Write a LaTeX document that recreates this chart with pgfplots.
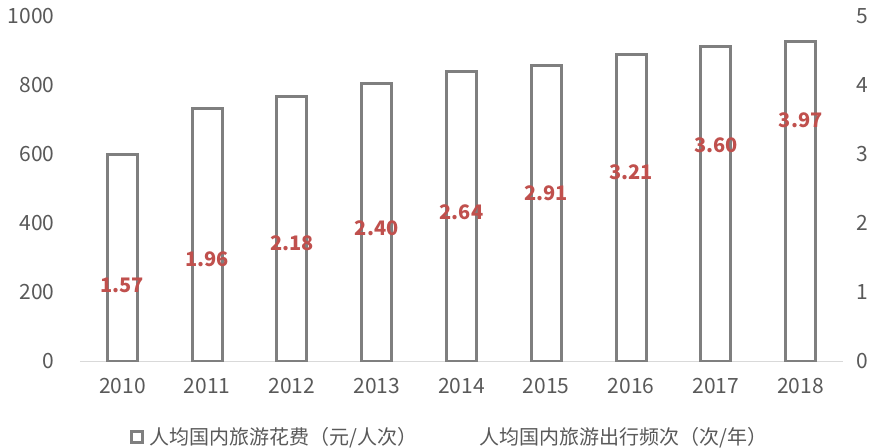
\documentclass[border=0pt]{standalone}
\usepackage{pgfplots}
\pgfplotsset{compat=1.18}
\usepackage{fontspec}
\setmainfont{Noto Sans CJK SC}
\definecolor{bargray}{HTML}{7F7F7F}
\definecolor{txtgray}{HTML}{595959}
\definecolor{lblred}{HTML}{C0504D}
\definecolor{axgray}{HTML}{D9D9D9}
\newcommand{\f}{\fontsize{20bp}{22bp}\selectfont}
\newcommand{\ft}{\fontsize{21bp}{23bp}\selectfont}
\begin{document}
\begin{tikzpicture}
\useasboundingbox (-80bp,-87bp) rectangle (799bp,361bp);
\begin{axis}[
  at={(0,0)}, anchor=south west,
  scale only axis, width=763bp, height=345bp,
  xmin=-0.5, xmax=8.5, ymin=0, ymax=1000,
  xtick={0,...,8}, xticklabels={2010,2011,2012,2013,2014,2015,2016,2017,2018},
  ytick={0,200,...,1000},
  axis x line*=bottom, axis y line*=left,
  x axis line style={draw=axgray, line width=1bp},
  y axis line style={draw=none},
  major tick length=0pt,
  /pgf/number format/assume math mode=true,
  /pgf/number format/1000 sep={},
  ticklabel style={font=\ft, text=txtgray},
  yticklabel style={xshift=-22bp},
  xticklabel style={yshift=-14bp},
  legend columns=2,
  legend style={draw=none, fill=none, at={(0.0655,-0.22)}, anchor=west, font=\f, text=txtgray,
    inner sep=0pt, outer sep=0pt,
    /tikz/every even column/.append style={column sep=58bp}},
  legend cell align=left,
]
\addplot[ybar, bar width=30bp, draw=bargray, fill=white, line width=3bp,
  legend image code/.code={\draw[draw=bargray, line width=3bp, fill=white] (1.5bp,-5.5bp) rectangle (12.5bp,5.5bp); \path (16bp,0bp);}]
  coordinates {(0,598.2) (1,731.0) (2,767.9) (3,805.5) (4,839.7) (5,857.0) (6,888.2) (7,913.0) (8,925.8)};
\addlegendentry{人均国内旅游花费（元/人次）}
\addlegendimage{empty legend}
\addlegendentry{人均国内旅游出行频次（次/年）}
\end{axis}
\begin{axis}[
  at={(0,0)}, anchor=south west,
  scale only axis, width=763bp, height=345bp,
  xmin=-0.5, xmax=8.5, ymin=0, ymax=5,
  ytick={0,...,5},
  axis y line*=right, axis x line=none,
  y axis line style={draw=none},
  major tick length=0pt,
  /pgf/number format/assume math mode=true,
  ticklabel style={font=\ft, text=txtgray},
  yticklabel style={xshift=10bp},
  clip=false,
]
\addplot[draw=none, mark=none, nodes near coords, point meta=explicit symbolic,
  every node near coord/.style={anchor=center, yshift=-33bp, text=lblred, font=\f\bfseries}]
  table[meta=l] {
x y l
0 1.57 1.57
1 1.96 1.96
2 2.18 2.18
3 2.40 2.40
4 2.64 2.64
5 2.91 2.91
6 3.21 3.21
7 3.60 3.60
8 3.97 3.97
};
\end{axis}
\end{tikzpicture}
\end{document}
